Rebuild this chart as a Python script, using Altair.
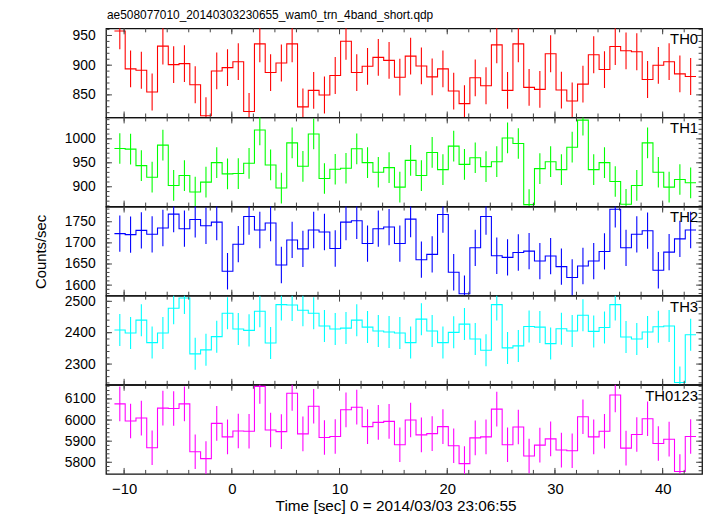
import altair as alt
import pandas as pd
import numpy as np

FONT = "Liberation Sans"
W, H = 602, 90
X_DOMAIN = [-11.68, 43.66]
T0 = -10.4          # centre of first 1-s bin
X_LABELS = [-10, 0, 10, 20, 30, 40]

file_title = "ae508077010_20140303230655_wam0_trn_4band_short.qdp"
x_title = "Time [sec] 0 = 2014/03/03 23:06:55"
y_title = "Counts/sec"

th0 = [957.6, 893.7, 891.4, 854.8, 932.0, 900.9, 902.6, 867.0, 814.8, 890.3, 895.9, 905.9, 822.0, 935.9,
       887.6, 903.7, 935.9, 829.8, 857.6, 849.8, 882.6, 940.3, 887.6, 898.1, 913.1, 908.1, 879.8,
       915.3, 898.7, 880.3, 893.7, 856.4, 835.3, 878.7, 865.3, 934.2, 857.6, 935.9, 862.6, 859.2, 919.2,
       858.1, 839.8, 868.1, 917.6, 892.6, 931.4, 924.2, 922.6, 875.9, 899.8, 905.9, 885.3, 880.9]
th1 = [979.9, 978.5, 944.1, 920.0, 986.8, 902.8, 923.4, 889.0, 909.7, 950.3, 926.9, 927.6, 948.9, 1018.4,
       945.5, 897.3, 991.6, 942.7, 1010.2, 917.2, 936.5, 938.6, 979.2, 950.3, 930.3, 940.0, 899.3,
       955.1, 923.4, 971.6, 935.8, 984.7, 946.8, 960.6, 942.0, 952.3, 1001.9, 990.2, 862.8, 937.9, 952.3,
       935.8, 982.6, 1039.1, 935.8, 950.3, 911.0, 863.5, 902.8, 991.6, 930.3, 899.3, 915.2, 908.3]
th2 = [1721.9, 1719.5, 1729.7, 1720.3, 1735.2, 1768.0, 1733.6, 1755.5, 1740.6, 1749.2, 1632.8, 1696.9,
       1762.5, 1730.5, 1746.9, 1647.7, 1707.0, 1685.9, 1730.5, 1725.8, 1686.7, 1749.2, 1752.3, 1698.4,
       1733.6, 1737.5, 1698.4,
       1756.3, 1660.2, 1672.7, 1767.2, 1630.5, 1579.7, 1688.3, 1762.5, 1669.5, 1665.6, 1677.3, 1680.5,
       1657.0, 1668.8, 1643.8, 1618.0, 1645.3, 1657.0, 1679.7, 1779.7, 1688.3, 1720.3, 1728.9, 1635.2,
       1678.1, 1709.4, 1730.5]
th3 = [2408.4, 2398.9, 2440.0, 2368.4, 2398.9, 2477.9, 2510.5, 2332.6, 2345.3, 2387.4, 2462.1, 2411.6,
       2407.4, 2468.4, 2367.4, 2489.5, 2488.4, 2471.6, 2462.1, 2421.1, 2411.6, 2414.7, 2440.0, 2417.9,
       2405.3, 2402.1, 2398.9,
       2368.4, 2443.2, 2405.3, 2368.4, 2401.1, 2427.4, 2380.0, 2344.2, 2489.5, 2351.6, 2357.9, 2420.0,
       2417.9, 2365.3, 2412.6, 2405.3, 2455.8, 2404.2, 2416.8, 2489.5, 2386.3, 2380.0, 2402.1, 2418.9,
       2421.1, 2241.1, 2393.7]
th0123 = [6076.6, 5995.3, 6009.4, 5868.8, 6056.3, 6054.7, 6076.6, 5850.0, 5817.2, 5984.4, 5920.3, 5948.4,
          5946.9, 6159.4, 5953.1, 5945.3, 6126.6, 5934.4, 6065.6, 5917.2, 5921.9, 6048.4, 6060.9, 5968.8,
          5989.1, 5993.8, 5882.8,
          6000.0, 5929.7, 5935.9, 5968.8, 5878.1, 5793.8, 5915.6, 5920.3, 6051.6, 5882.8, 5967.2, 5829.7,
          5881.3, 5910.9, 5857.8, 5854.7, 6015.6, 5920.3, 5946.9, 6118.8, 5867.2, 5931.3, 6006.3, 5889.1,
          5909.4, 5756.3, 5921.9]

names = ["TH0", "TH1", "TH2", "TH3", "TH0123"]
series = [th0, th1, th2, th3, th0123]
errors = [31, 32, 43, 51, 82]
colors = ["#ff0000", "#00ff00", "#0000ff", "#00ffff", "#ff00ff"]
y_domains = [[812, 962], [858.7, 1044.6], [1575, 1786], [2234, 2518], [5745, 6167]]
y_labels = [[850, 900, 950], [900, 950, 1000], [1600, 1650, 1700, 1750], [2300, 2400, 2500],
            [5800, 5900, 6000, 6100]]
y_minor_step = [10, 10, 10, 20, 20]
y_major_step = [50, 50, 50, 100, 100]


def panel(k):
    vals = series[k]
    n = len(vals)
    err = errors[k]
    color = colors[k]
    lo, hi = y_domains[k]
    centers = [T0 + i for i in range(n)]
    pts = pd.DataFrame({"t": centers, "rate": vals})
    pts["lo"] = pts["rate"] - err
    pts["hi"] = pts["rate"] + err
    steps = pd.DataFrame({"t": [c - 0.5 for c in centers] + [centers[-1] + 0.5],
                          "rate": vals + [vals[-1]]})

    xs = alt.Scale(domain=X_DOMAIN, nice=False, zero=False)
    ys = alt.Scale(domain=[lo, hi], nice=False, zero=False)
    show_x = (k == len(series) - 1)
    if show_x:
        xaxis = alt.Axis(values=X_LABELS, ticks=False, domain=False, grid=False, title=None,
                         labelFontSize=15, labelPadding=8, format="d", labelFont=FONT,
                         labelColor="black")
    else:
        xaxis = None
    yaxis = alt.Axis(values=y_labels[k], ticks=False, domain=False, grid=False, title=None,
                     labelFontSize=14, labelPadding=11, format="d", labelFont=FONT,
                     labelColor="black")

    def X(f):
        return alt.X(f, type="quantitative", scale=xs, axis=xaxis)

    def Y(f):
        return alt.Y(f, type="quantitative", scale=ys, axis=yaxis)

    step = alt.Chart(steps).mark_line(interpolate="step-after", color=color, strokeWidth=1.1,
                                      clip=True).encode(x=X("t"), y=Y("rate"))
    bars = alt.Chart(pts).mark_rule(color=color, strokeWidth=1.1, clip=True).encode(
        x=X("t"), y=Y("lo"), y2="hi:Q")

    # inward ticks
    xmin_df = pd.DataFrame({"t": np.arange(-10, 43, 2)})
    xmaj_df = pd.DataFrame({"t": np.arange(-10, 41, 10)})
    ymin_df = pd.DataFrame({"v": np.arange(np.ceil(lo / y_minor_step[k]) * y_minor_step[k], hi,
                                           y_minor_step[k])})
    ymaj_df = pd.DataFrame({"v": np.arange(np.ceil(lo / y_major_step[k]) * y_major_step[k], hi,
                                           y_major_step[k])})
    tc = "#444444"
    ticks = []
    for df, L in [(xmin_df, 4), (xmaj_df, 6)]:
        ticks.append(alt.Chart(df).mark_rule(color=tc, strokeWidth=1).encode(
            x=X("t"), y=alt.value(0), y2=alt.value(L)))
        ticks.append(alt.Chart(df).mark_rule(color=tc, strokeWidth=1).encode(
            x=X("t"), y=alt.value(H - L), y2=alt.value(H)))
    for df, L in [(ymin_df, 3.5), (ymaj_df, 6)]:
        ticks.append(alt.Chart(df).mark_rule(color=tc, strokeWidth=1).encode(
            y=Y("v"), x=alt.value(0), x2=alt.value(L)))
        ticks.append(alt.Chart(df).mark_rule(color=tc, strokeWidth=1).encode(
            y=Y("v"), x=alt.value(W - L), x2=alt.value(W)))

    label = alt.Chart(pd.DataFrame({"s": [names[k]]})).mark_text(
        align="right", baseline="alphabetic", fontSize=15, font=FONT, color="black").encode(
        x=alt.value(W - 4), y=alt.value(16), text="s:N")

    layers = [step, bars] + ticks + [label]
    if k == 0:
        layers.append(alt.Chart(pd.DataFrame({"s": [file_title]})).mark_text(
            align="left", baseline="alphabetic", fontSize=12, font=FONT, color="black").encode(
            x=alt.value(1), y=alt.value(-9.7), text="s:N"))
    if k == 2:
        layers.append(alt.Chart(pd.DataFrame({"s": [y_title]})).mark_text(
            align="center", baseline="middle", angle=270, fontSize=15, font=FONT,
            color="black").encode(x=alt.value(-66), y=alt.value(45.8), text="s:N"))
    if show_x:
        layers.append(alt.Chart(pd.DataFrame({"s": [x_title]})).mark_text(
            align="center", baseline="alphabetic", fontSize=15.5, font=FONT,
            color="black").encode(x=alt.value(293), y=alt.value(H + 37), text="s:N"))
    return alt.layer(*layers).properties(width=W, height=H)


chart = alt.vconcat(*[panel(k) for k in range(len(series))], spacing=0, bounds="flush").properties(
    padding={"left": 25, "top": -3, "right": 5, "bottom": 0}
).configure_view(stroke="#111111", strokeWidth=1.3)

chart.save("out.html", embed_options={"renderer": "svg", "actions": False})
